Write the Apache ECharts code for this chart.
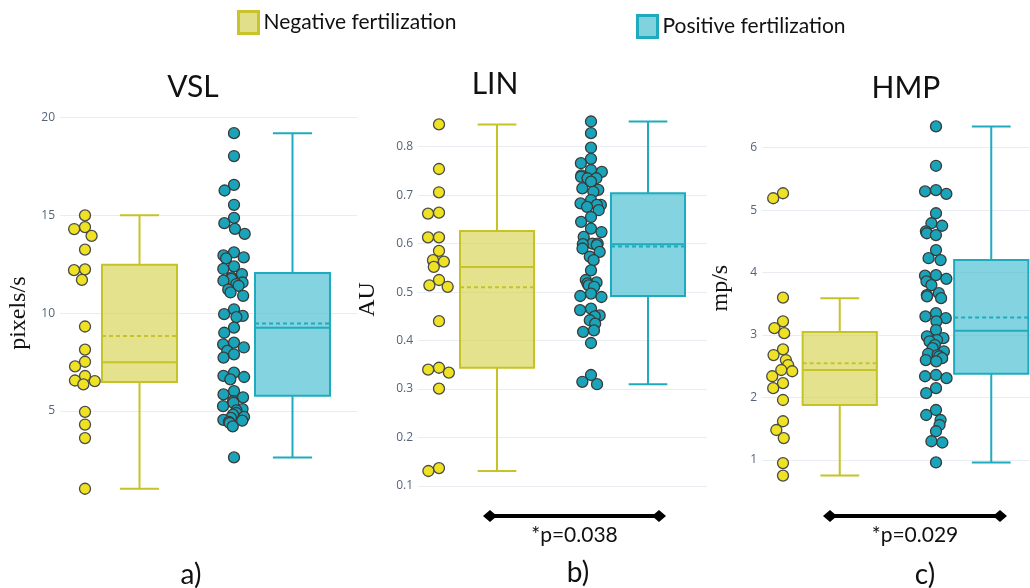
<!DOCTYPE html>
<html><head><meta charset="utf-8">
<script src="https://cdn.jsdelivr.net/npm/echarts@6/dist/echarts.min.js"></script>
<style>html,body{margin:0;padding:0;background:#fff}#c{width:1030px;height:588px}</style>
</head><body><div id="c"></div>
<script>
const groups = ['Negative fertilization', 'Positive fertilization'];
const panelTitles = ['VSL', 'LIN', 'HMP'];
const axisNames = ['pixels/s', 'AU', 'mp/s'];
const panelLabels = ['a)', 'b)', 'c)'];
const pValueLabels = ['*p=0.038', '*p=0.029'];

// box statistics: [lower whisker, Q1, median, Q3, upper whisker, mean]
const vslNegStats = [1.03, 6.48, 7.5, 12.48, 15.0, 8.84];
const vslPosStats = [2.63, 5.78, 9.26, 12.05, 19.2, 9.47];
const linNegStats = [0.131, 0.344, 0.552, 0.626, 0.846, 0.51];
const linPosStats = [0.31, 0.492, 0.599, 0.704, 0.852, 0.594];
const hmpNegStats = [0.75, 1.88, 2.44, 3.05, 3.59, 2.55];
const hmpPosStats = [0.96, 2.38, 3.07, 4.2, 6.34, 3.28];

// individual observations
const vslNeg = [15.0, 14.4, 14.3, 13.95, 13.25, 12.24, 12.2, 11.7, 9.32, 8.14, 7.52, 7.28, 6.79, 6.56, 6.53, 6.36, 4.96, 4.31, 3.62, 1.03];
const vslPos = [19.2, 18.03, 16.56, 16.27, 15.54, 14.87, 14.6, 14.31, 14.05, 13.11, 12.95, 12.85, 12.8, 12.39, 12.26, 12.0, 11.83, 11.75, 11.66, 11.57, 11.49, 11.4, 11.2, 11.06, 10.89, 10.2, 9.95, 9.86, 9.8, 9.26, 9.0, 8.5, 8.41, 8.25, 8.07, 7.9, 7.73, 6.96, 6.8, 6.74, 6.62, 6.02, 5.85, 5.7, 5.5, 5.42, 5.25, 5.1, 5.03, 4.9, 4.82, 4.7, 4.65, 4.55, 4.51, 4.45, 4.39, 4.22, 2.63];
const linNeg = [0.846, 0.754, 0.706, 0.664, 0.662, 0.613, 0.613, 0.585, 0.566, 0.563, 0.552, 0.525, 0.514, 0.511, 0.44, 0.344, 0.34, 0.334, 0.301, 0.137, 0.131];
const linPos = [0.852, 0.828, 0.798, 0.775, 0.766, 0.752, 0.748, 0.741, 0.738, 0.735, 0.735, 0.728, 0.714, 0.711, 0.707, 0.69, 0.683, 0.68, 0.68, 0.676, 0.669, 0.655, 0.645, 0.631, 0.624, 0.614, 0.6, 0.6, 0.599, 0.597, 0.59, 0.583, 0.573, 0.566, 0.545, 0.525, 0.52, 0.518, 0.514, 0.511, 0.497, 0.492, 0.49, 0.466, 0.463, 0.452, 0.45, 0.442, 0.435, 0.421, 0.418, 0.395, 0.329, 0.315, 0.31];
const hmpNeg = [5.27, 5.19, 3.6, 3.22, 3.11, 3.03, 2.77, 2.68, 2.6, 2.52, 2.44, 2.42, 2.34, 2.23, 2.15, 1.96, 1.62, 1.48, 1.35, 0.95, 0.75];
const hmpPos = [6.34, 5.71, 5.32, 5.3, 5.26, 4.95, 4.79, 4.75, 4.66, 4.63, 4.6, 4.36, 4.23, 4.2, 3.96, 3.95, 3.9, 3.86, 3.8, 3.67, 3.64, 3.62, 3.59, 3.35, 3.3, 3.27, 3.22, 3.08, 2.98, 2.95, 2.92, 2.9, 2.84, 2.79, 2.74, 2.7, 2.68, 2.66, 2.63, 2.6, 2.58, 2.36, 2.34, 2.31, 2.15, 2.07, 1.8, 1.72, 1.64, 1.56, 1.46, 1.3, 1.28, 0.96];

// y axis ranges
const yRanges = [
  {min: 0, max: 20, interval: 5},
  {min: 0.1, max: 0.87, interval: 0.1},
  {min: 0.5, max: 7}
];

const NEG = {stroke: '#c6c326', fill: 'rgba(214,210,80,0.65)', point: '#efe223'};
const POS = {stroke: '#1fabbe', fill: 'rgba(72,192,209,0.68)', point: '#19a4b9'};

const layout = [
  {axis: {left: 60, width: 297, top: 117.5, height: 391.4}, box: {left: 63, width: 306}, pts: {left: 10.5, width: 298}, nameGap: 29, title: [193, 87]},
  {axis: {left: 418, width: 289, top: 112.8, height: 373.2}, box: {left: 421.5, width: 302}, pts: {left: 363, width: 304}, nameGap: 38, title: [495, 84]},
  {axis: {left: 762, width: 268, top: 85.2, height: 406}, box: {left: 764, width: 303}, pts: {left: 706.5, width: 306}, nameGap: 29, title: [906, 88]}
];

const panelData = [
  [vslNeg, vslPos, vslNegStats, vslPosStats],
  [linNeg, linPos, linNegStats, linPosStats],
  [hmpNeg, hmpPos, hmpNegStats, hmpPosStats]
];

function boxRenderer(col) {
  return function (params, api) {
    const c = api.value(0);
    const p = i => api.coord([c, api.value(i)]);
    const lo = p(1), q1 = p(2), med = p(3), q3 = p(4), hi = p(5), mn = p(6);
    const band = api.size([1, 0])[0];
    const half = band * 0.245, cap = band * 0.128;
    const x = lo[0];
    const ls = {stroke: col.stroke, lineWidth: 2, fill: null};
    return {type: 'group', children: [
      {type: 'line', shape: {x1: x, y1: hi[1], x2: x, y2: q3[1]}, style: ls},
      {type: 'line', shape: {x1: x, y1: q1[1], x2: x, y2: lo[1]}, style: ls},
      {type: 'line', shape: {x1: x - cap, y1: hi[1], x2: x + cap, y2: hi[1]}, style: ls},
      {type: 'line', shape: {x1: x - cap, y1: lo[1], x2: x + cap, y2: lo[1]}, style: ls},
      {type: 'rect', shape: {x: x - half, y: q3[1], width: 2 * half, height: q1[1] - q3[1]}, style: {fill: col.fill, stroke: col.stroke, lineWidth: 2}},
      {type: 'line', shape: {x1: x - half, y1: med[1], x2: x + half, y2: med[1]}, style: ls},
      {type: 'line', shape: {x1: x - half, y1: mn[1], x2: x + half, y2: mn[1]}, style: {stroke: col.stroke, lineWidth: 2, lineDash: [4, 3], fill: null}}
    ]};
  };
}

const grid = [], xAxis = [], yAxis = [], series = [], graphic = [];
layout.forEach((L, i) => {
  const yr = yRanges[i];
  const g0 = grid.length;
  grid.push(Object.assign({outerBoundsMode: 'none', containLabel: false}, L.axis));
  grid.push({outerBoundsMode: 'none', containLabel: false, left: L.box.left, width: L.box.width, top: L.axis.top, height: L.axis.height});
  grid.push({outerBoundsMode: 'none', containLabel: false, left: L.pts.left, width: L.pts.width, top: L.axis.top, height: L.axis.height});
  // visible axis grid
  xAxis.push({gridIndex: g0, type: 'value', min: 0, max: 1, show: false});
  yAxis.push({gridIndex: g0, type: 'value', min: yr.min, max: yr.max, interval: yr.interval,
    name: axisNames[i], nameLocation: 'middle', nameRotate: 90, nameGap: L.nameGap,
    nameTextStyle: {fontFamily: 'Liberation Serif, DejaVu Serif, serif', fontSize: 24, color: '#111'},
    axisLine: {show: false}, axisTick: {show: false},
    axisLabel: {color: '#55647a', fontSize: 12, fontFamily: 'Open Sans', margin: 5, showMinLabel: i === 1, showMaxLabel: i === 0},
    splitLine: {show: true, showMinLine: i === 1, showMaxLine: i === 0, lineStyle: {color: '#e9ecf1', width: 1}}
  });
  // box grid
  xAxis.push({gridIndex: g0 + 1, type: 'category', data: groups, show: false});
  yAxis.push({gridIndex: g0 + 1, type: 'value', min: yr.min, max: yr.max, interval: yr.interval, show: false, splitLine: {show: false}});
  // point grid
  xAxis.push({gridIndex: g0 + 2, type: 'category', data: groups, show: false, jitter: 22, jitterOverlap: false, jitterMargin: 0});
  yAxis.push({gridIndex: g0 + 2, type: 'value', min: yr.min, max: yr.max, interval: yr.interval, show: false, splitLine: {show: false}});

  const [neg, pos, negS, posS] = panelData[i];
  series.push({type: 'custom', name: groups[0], xAxisIndex: g0 + 1, yAxisIndex: g0 + 1, clip: false,
    renderItem: boxRenderer(NEG), data: [[0].concat(negS)], itemStyle: {color: NEG.fill}});
  series.push({type: 'custom', name: groups[1], xAxisIndex: g0 + 1, yAxisIndex: g0 + 1, clip: false,
    renderItem: boxRenderer(POS), data: [[1].concat(posS)], itemStyle: {color: POS.fill}});
  series.push({type: 'scatter', name: groups[0], xAxisIndex: g0 + 2, yAxisIndex: g0 + 2, symbolSize: 11,
    data: neg.map(v => [0, v]), itemStyle: {color: NEG.point, borderColor: '#4a4a4a', borderWidth: 1.3, opacity: 1}});
  series.push({type: 'scatter', name: groups[1], xAxisIndex: g0 + 2, yAxisIndex: g0 + 2, symbolSize: 11,
    data: pos.map(v => [1, v]), itemStyle: {color: POS.point, borderColor: '#3a3a3a', borderWidth: 1.3, opacity: 1}});

  graphic.push({type: 'text', x: L.title[0], y: L.title[1], style: {text: panelTitles[i], fontSize: 30, fontFamily: 'Lato', fill: '#111', align: 'center', verticalAlign: 'middle'}});
});

const labelPos = [[191, 575], [578, 573], [925, 575]];
panelLabels.forEach((t, i) => graphic.push({type: 'text', x: labelPos[i][0], y: labelPos[i][1], style: {text: t, fontSize: 28, fontFamily: 'Lato', fill: '#111', align: 'center', verticalAlign: 'middle'}}));

const pLines = [[490, 659, 516], [830, 1000, 516]];
pLines.forEach((pl, i) => {
  const [x1, x2, y] = pl;
  graphic.push({type: 'line', shape: {x1: x1, y1: y, x2: x2, y2: y}, style: {stroke: '#000', lineWidth: 4}});
  [x1, x2].forEach(x => graphic.push({type: 'polygon', shape: {points: [[x - 7, y], [x, y - 6], [x + 7, y], [x, y + 6]]}, style: {fill: '#000'}}));
  graphic.push({type: 'text', x: (x1 + x2) / 2, y: y + 19, style: {text: pValueLabels[i], fontSize: 21, fontFamily: 'Lato', fill: '#111', align: 'center', verticalAlign: 'middle'}});
});

const legendText = {fontSize: 21, fontFamily: 'Lato', color: '#111'};
const option = {
  animation: false,
  backgroundColor: '#fff',
  grid, xAxis, yAxis, series, graphic,
  legend: [
    {left: 237, top: 10, padding: 0, itemWidth: 20, itemHeight: 22, itemGap: 10, textStyle: legendText, selectedMode: false,
      data: [{name: groups[0], icon: 'rect', itemStyle: {color: '#e2df8a', borderColor: '#c8c52a', borderWidth: 3}}]},
    {left: 636, top: 14, padding: 0, itemWidth: 20, itemHeight: 22, itemGap: 10, textStyle: legendText, selectedMode: false,
      data: [{name: groups[1], icon: 'rect', itemStyle: {color: '#80d2dd', borderColor: '#1faabd', borderWidth: 3}}]}
  ]
};
const chart = echarts.init(document.getElementById('c'), null, {renderer: 'canvas'});
chart.setOption(option);
</script></body></html>
